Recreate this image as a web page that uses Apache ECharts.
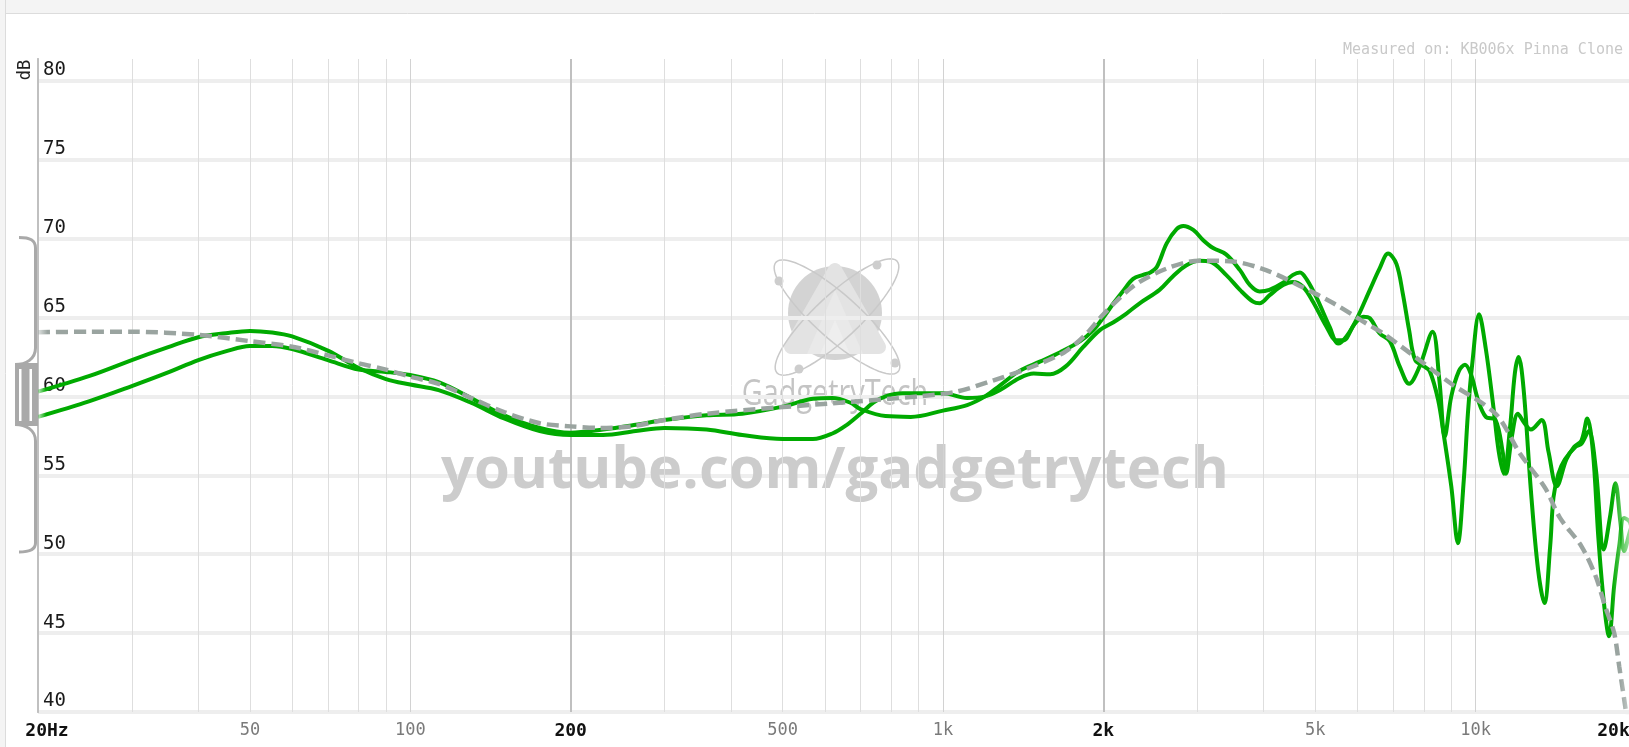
<!DOCTYPE html>
<html><head><meta charset="utf-8">
<script src="https://cdn.jsdelivr.net/npm/echarts@6/dist/echarts.min.js"></script>
<style>html,body{margin:0;padding:0;background:#fff;overflow:hidden}#chart{width:1629px;height:747px}</style>
</head><body><div id="chart"></div>
<script>
// ---- data (frequency in Hz, level in dB) ----
const channelA = [
 [20,60.3],[25,61.3],[30,62.3],[35,63.1],[40,63.75],[45,64.0],[50,64.15],[55,64.05],[60,63.8],[70,62.9],[80,61.8],[90,61.1],[100,60.75],[113,60.4],[130,59.6],[150,58.6],[175,57.8],[200,57.55],[230,57.55],[265,57.8],[300,58.0],[360,57.9],[420,57.55],[500,57.3],[570,57.3],[620,57.65],[660,58.2],[700,58.9],[740,59.6],[780,60.0],[840,60.2],[920,60.2],[1000,60.2],[1110,59.9],[1200,60.0],[1280,60.4],[1390,61.15],[1480,61.45],[1590,61.4],[1700,61.9],[1830,63.1],[1970,64.2],[2090,64.7],[2210,65.25],[2340,65.9],[2550,66.75],[2700,67.6],[2860,68.3],[3030,68.6],[3170,68.55],[3400,67.7],[3610,66.75],[3820,66.0],[3930,65.9],[4100,66.4],[4350,67.05],[4540,67.25],[4740,66.95],[4950,66.0],[5250,64.4],[5480,63.55],[5640,63.55],[5930,64.6],[6150,65.05],[6330,64.95],[6600,64.0],[6900,63.5],[7200,61.9],[7500,60.8],[7850,61.9],[8300,64.1],[8550,61.0],[8750,57.45],[9000,60.0],[9300,61.6],[9550,62.0],[9800,61.4],[10100,59.8],[10450,58.7],[10900,58.5],[11250,56.4],[11400,55.1],[11700,57.5],[12000,58.9],[12350,58.3],[12700,57.9],[13300,58.5],[13700,56.5],[14200,54.3],[14800,56.0],[15300,56.8],[15800,57.2],[16200,58.6],[16600,56.5],[17000,51.0],[17400,47.0],[17800,44.8],[18200,48.0],[18600,50.5],[19000,52.3],[19500,52.0],[20000,50.0]
];
const channelB = [
 [20,58.7],[25,59.7],[30,60.65],[35,61.5],[40,62.3],[45,62.85],[50,63.2],[55,63.2],[60,63.0],[70,62.3],[80,61.7],[90,61.55],[100,61.35],[113,60.9],[130,59.9],[150,58.8],[175,58.0],[200,57.7],[230,57.9],[265,58.2],[300,58.5],[360,58.8],[420,58.9],[500,59.35],[570,59.85],[620,59.9],[670,59.6],[700,59.2],[780,58.75],[870,58.7],[1000,59.1],[1110,59.45],[1200,60.0],[1280,60.7],[1390,61.6],[1520,62.2],[1660,62.8],[1810,63.5],[1915,64.2],[2000,65.0],[2090,65.9],[2180,66.7],[2275,67.45],[2375,67.7],[2450,67.85],[2520,68.2],[2630,69.7],[2745,70.6],[2825,70.8],[2950,70.55],[3080,69.9],[3215,69.4],[3400,69.0],[3610,68.0],[3770,67.05],[3930,66.65],[4100,66.75],[4350,67.2],[4540,67.7],[4680,67.85],[4820,67.4],[5020,66.3],[5320,64.4],[5520,63.35],[5720,63.8],[5970,64.85],[6330,66.75],[6600,68.1],[6850,69.05],[7100,68.4],[7300,66.5],[7500,64.2],[7700,62.3],[8000,61.9],[8200,61.6],[8500,59.8],[8700,57.7],[9000,54.3],[9260,50.7],[9500,54.7],[9670,58.9],[9850,62.0],[10150,65.2],[10450,63.0],[10800,59.3],[11050,56.5],[11300,55.1],[11600,58.0],[11850,61.5],[12040,62.5],[12300,60.5],[12700,54.0],[13100,49.0],[13460,46.9],[13800,50.5],[14000,53.6],[14300,55.1],[14700,56.0],[15400,56.8],[15800,57.0],[16300,57.8],[16800,55.5],[17400,50.3],[17900,52.5],[18300,54.5],[18700,52.0],[19000,50.2],[19500,51.5],[20000,52.5]
];
const target = [
 [20,64.06],[25,64.1],[30,64.1],[40,63.9],[50,63.5],[60,63.15],[70,62.6],[80,62.1],[90,61.7],[100,61.25],[113,60.8],[130,59.9],[150,59.0],[175,58.3],[200,58.1],[227,58.0],[260,58.1],[300,58.5],[360,58.9],[490,59.3],[670,59.65],[900,60.0],[1060,60.3],[1240,61.0],[1450,61.8],[1690,62.8],[1850,63.9],[2000,65.2],[2280,67.0],[2630,68.1],[3030,68.6],[3500,68.55],[4040,68.0],[4680,67.0],[5410,65.9],[6250,64.6],[6700,64.0],[7700,62.5],[9000,60.8],[10900,58.9],[12100,56.4],[13500,54.2],[14400,52.3],[15800,50.5],[16800,48.6],[17500,46.7],[18200,45.0],[18600,42.9],[19100,40.3],[19600,37.5],[20000,35]
];
const gridFreqs = [20,30,40,50,60,70,80,90,100,200,300,400,500,600,700,800,900,1000,2000,3000,4000,5000,6000,7000,8000,9000,10000,20000];
const decadeFreqs = [100,1000,10000];
const majorFreqs = [20,200,2000,20000];
const labelFreqs = [20,50,100,200,500,1000,2000,5000,10000,20000];
const labelTexts = ['20Hz','50','100','200','500','1k','2k','5k','10k','20k'];
const yMin = 40, yMax = 81.38, yStep = 5;
const yName = 'dB';
const noteText = 'Measured on: KB006x Pinna Clone';
const watermarkText = 'youtube.com/gadgetrytech';
const logoText = 'GadgetryTech';

// ---- chart ----
const MONO = "'DejaVu Sans Mono', monospace";
const chart = echarts.init(document.getElementById('chart'), null, {renderer: 'canvas'});

const markData = gridFreqs.map(f => {
  const isMajor = majorFreqs.includes(f);
  const li = labelFreqs.indexOf(f);
  const item = {
    xAxis: f,
    lineStyle: {
      color: isMajor ? '#c0c0c0' : (decadeFreqs.includes(f) ? '#d2d2d2' : '#dedede'),
      width: isMajor ? 2 : 1, type: 'solid'
    },
    label: {show: false}
  };
  if (li >= 0) {
    item.label = {
      show: true, position: 'start', formatter: labelTexts[li], distance: 10,
      fontFamily: MONO, fontSize: isMajor ? 18 : 17,
      fontWeight: isMajor ? 'bold' : 'normal',
      color: isMajor ? '#111111' : '#7a7a7a'
    };
    if (f === labelFreqs[0]) item.label.padding = [0, 0, 0, 18];
    if (f === labelFreqs[labelFreqs.length - 1]) item.label.padding = [0, 45, 0, 0];
  }
  return item;
});

function fade(rgb, a0, a1, s0, s1) {
  return {type: 'linear', x: 38, y: 0, x2: 1636, y2: 0, global: true, colorStops: [
    {offset: 0, color: 'rgba(' + rgb + ',' + a0 + ')'},
    {offset: s0, color: 'rgba(' + rgb + ',1)'},
    {offset: s1, color: 'rgba(' + rgb + ',1)'},
    {offset: 1, color: 'rgba(' + rgb + ',' + a1 + ')'}
  ]};
}
const GREEN = '0,170,0';
const GREY = '154,164,160';

// decorative ellipse outline (logo) as polygon points
function ellipsePts(cx, cy, rx, ry, ang) {
  const pts = [];
  for (let i = 0; i < 72; i++) {
    const t = i / 72 * Math.PI * 2;
    const ex = rx * Math.cos(t), ey = ry * Math.sin(t);
    pts.push([cx + ex * Math.cos(ang) - ey * Math.sin(ang), cy + ex * Math.sin(ang) + ey * Math.cos(ang)]);
  }
  return pts;
}

const logoZ = -10;
const BR = '#a9a9a9';
const graphics = [
  // page chrome
  {type: 'rect', shape: {x: 0, y: 0, width: 1629, height: 13}, style: {fill: '#f4f4f4'}, z: 20, silent: true},
  {type: 'line', shape: {x1: 0, y1: 13.5, x2: 1629, y2: 13.5}, style: {stroke: '#dcdcdc', lineWidth: 1}, z: 20, silent: true},
  {type: 'rect', shape: {x: 0, y: 0, width: 5, height: 747}, style: {fill: '#f4f4f4'}, z: 20, silent: true},
  {type: 'line', shape: {x1: 5.5, y1: 0, x2: 5.5, y2: 747}, style: {stroke: '#dcdcdc', lineWidth: 1}, z: 20, silent: true},
  // y scaler bracket
  {type: 'bezierCurve', shape: {x1: 19, y1: 237.5, cpx1: 30, cpy1: 237.5, cpx2: 35.5, cpy2: 240, x2: 35.5, y2: 248}, style: {fill: 'none', stroke: BR, lineWidth: 3}, z: 20, silent: true},
  {type: 'line', shape: {x1: 35.5, y1: 248, x2: 35.5, y2: 348}, style: {stroke: BR, lineWidth: 3}, z: 20, silent: true},
  {type: 'bezierCurve', shape: {x1: 35.5, y1: 348, cpx1: 35.5, cpy1: 359, cpx2: 26, cpy2: 364.5, x2: 15, y2: 364.5}, style: {fill: 'none', stroke: BR, lineWidth: 3}, z: 20, silent: true},
  {type: 'bezierCurve', shape: {x1: 15, y1: 424.5, cpx1: 26, cpy1: 424.5, cpx2: 35.5, cpy2: 430, x2: 35.5, y2: 441}, style: {fill: 'none', stroke: BR, lineWidth: 3}, z: 20, silent: true},
  {type: 'line', shape: {x1: 35.5, y1: 441, x2: 35.5, y2: 543}, style: {stroke: BR, lineWidth: 3}, z: 20, silent: true},
  {type: 'bezierCurve', shape: {x1: 35.5, y1: 543, cpx1: 35.5, cpy1: 549, cpx2: 30, cpy2: 552, x2: 19, y2: 552}, style: {fill: 'none', stroke: BR, lineWidth: 3}, z: 20, silent: true},
  {type: 'rect', shape: {x: 15, y: 363, width: 23, height: 63}, style: {fill: BR}, z: 20, silent: true},
  {type: 'rect', shape: {x: 19, y: 369, width: 2.5, height: 52}, style: {fill: '#ffffff'}, z: 21, silent: true},
  {type: 'rect', shape: {x: 29.5, y: 369, width: 2.5, height: 52}, style: {fill: '#ffffff'}, z: 21, silent: true},
  // axis name and note
  {type: 'text', x: 26, y: 70, rotation: Math.PI / 2, style: {text: yName, x: 0, y: 0, fontFamily: MONO, fontSize: 17, fill: '#222', align: 'center', verticalAlign: 'middle'}, z: 20, silent: true},
  {type: 'text', style: {text: noteText, x: 1623, y: 50, fontFamily: MONO, fontSize: 15, fill: '#c9c9c9', align: 'right', verticalAlign: 'middle'}, z: 20, silent: true},
  // logo watermark
  {type: 'circle', shape: {cx: 835, cy: 313, r: 47}, style: {fill: '#d3d3d3'}, z: logoZ, silent: true},
  {type: 'polygon', shape: {points: [[835, 270], [791, 347], [879, 347]]}, style: {fill: '#e3e3e3', stroke: '#e3e3e3', lineWidth: 14, lineJoin: 'round'}, z: logoZ, silent: true},
  {type: 'polygon', shape: {points: [[835, 290], [807, 354], [863, 354]]}, style: {fill: '#e9e9e9'}, z: logoZ, silent: true},
  {type: 'polygon', shape: {points: [[835, 320], [820, 354], [850, 354]]}, style: {fill: '#eeeeee'}, z: logoZ, silent: true},
  {type: 'polygon', shape: {points: ellipsePts(837, 317, 82, 22, 0.73)}, style: {fill: 'none', stroke: '#c9c9c9', lineWidth: 1.5}, z: logoZ, silent: true},
  {type: 'polygon', shape: {points: ellipsePts(837, 317, 82, 22, -0.75)}, style: {fill: 'none', stroke: '#c9c9c9', lineWidth: 1.5}, z: logoZ, silent: true},
  {type: 'circle', shape: {cx: 779, cy: 281, r: 4.5}, style: {fill: '#cdcdcd'}, z: logoZ, silent: true},
  {type: 'circle', shape: {cx: 877, cy: 265, r: 4.5}, style: {fill: '#cdcdcd'}, z: logoZ, silent: true},
  {type: 'circle', shape: {cx: 799, cy: 369, r: 4.5}, style: {fill: '#cdcdcd'}, z: logoZ, silent: true},
  {type: 'circle', shape: {cx: 895, cy: 363, r: 4.5}, style: {fill: '#cdcdcd'}, z: logoZ, silent: true},
  {type: 'text', x: 835, y: 395, scaleX: 0.8, style: {text: logoText, x: 0, y: 0, fontFamily: "'Open Sans', sans-serif", fontSize: 36, fill: '#c4c4c4', align: 'center', verticalAlign: 'middle'}, z: logoZ, silent: true},
  {type: 'text', style: {text: watermarkText, x: 835, y: 471, fontFamily: "'Open Sans', sans-serif", fontWeight: 'bold', fontSize: 58, fill: '#cccccc', align: 'center', verticalAlign: 'middle'}, z: 1, silent: true}
];

const option = {
  backgroundColor: '#ffffff',
  animation: false,
  textStyle: {fontFamily: MONO},
  grid: {left: 38, right: -7, top: 59, bottom: 35, containLabel: false, outerBoundsMode: 'none'},
  xAxis: {
    type: 'log', logBase: 10, min: labelFreqs[0], max: labelFreqs[labelFreqs.length - 1],
    axisLine: {show: false}, axisTick: {show: false}, axisLabel: {show: false},
    splitLine: {show: false}, minorSplitLine: {show: false}
  },
  yAxis: {
    type: 'value', min: yMin, max: yMax, interval: yStep,
    axisLine: {show: true, lineStyle: {color: '#b3b3b3', width: 2}},
    axisTick: {show: false},
    axisLabel: {inside: true, margin: 5, showMaxLabel: false, fontFamily: MONO, fontSize: 19,
      color: '#1a1a1a', verticalAlign: 'bottom', padding: [0, 0, 1, 0]},
    splitLine: {show: true, showMaxLine: false, lineStyle: {color: '#eeeeee', width: 4}}
  },
  graphic: {elements: graphics},
  series: [
    {
      name: 'target', type: 'line', data: target, showSymbol: false, smooth: 0.3, z: 3,
      lineStyle: {width: 4.5, type: [12, 6], color: fade(GREY, 0.3, 0.25, 0.006, 0.99)},
      silent: true,
      markLine: {silent: true, symbol: ['none', 'none'], z: 1, animation: false,
        emphasis: {disabled: true}, data: markData}
    },
    {
      name: 'channelA', type: 'line', data: channelA, showSymbol: false, smooth: 0.35, z: 2,
      lineStyle: {width: 4, color: fade(GREEN, 0.25, 0.15, 0.005, 0.985)}, silent: true
    },
    {
      name: 'channelB', type: 'line', data: channelB, showSymbol: false, smooth: 0.35, z: 2,
      lineStyle: {width: 4, color: fade(GREEN, 0.25, 0.15, 0.005, 0.985)}, silent: true
    }
  ]
};
chart.setOption(option);
</script>
</body></html>
